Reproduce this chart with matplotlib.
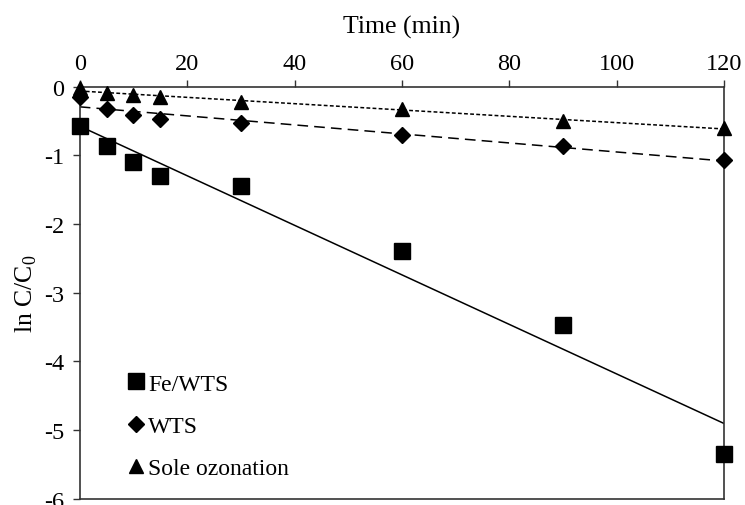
import matplotlib
matplotlib.use('Agg')
import matplotlib.pyplot as plt
import numpy as np

plt.rcParams['font.family'] = ['Liberation Serif']
plt.rcParams['mathtext.fontset'] = 'custom'
plt.rcParams['mathtext.rm'] = 'Liberation Serif'
plt.rcParams['axes.unicode_minus'] = False

# Reaction time (min) and ln C/C0 values
time = np.array([0, 5, 10, 15, 30, 60, 90, 120])
fe_wts = np.array([-0.58, -0.87, -1.10, -1.30, -1.44, -2.40, -3.47, -5.35])
wts = np.array([-0.15, -0.33, -0.41, -0.47, -0.53, -0.71, -0.86, -1.07])
sole_ozonation = np.array([-0.02, -0.10, -0.12, -0.15, -0.22, -0.33, -0.50, -0.60])

series = [
    ('Fe/WTS', fe_wts, 's', 11, '-'),
    ('WTS', wts, 'D', 8, (0, (7, 4))),
    ('Sole ozonation', sole_ozonation, '^', 10, (0, (2.5, 1.5))),
]

fig = plt.figure(figsize=(7.45, 5.06), dpi=100)
ax = fig.add_axes([0.107, 0.012, 0.865, 0.815])

fit_x = np.array([0, 120])
for label, y, marker, ms, ls in series:
    ax.plot(time, y, linestyle='none', marker=marker, markersize=ms,
            color='black', label=label, clip_on=False, zorder=3)
    slope, intercept = np.polyfit(time, y, 1)
    ax.plot(fit_x, slope * fit_x + intercept, color='black',
            linestyle=ls, linewidth=1.1, zorder=2)

ax.set_xlim(0, 120)
ax.set_ylim(-6, 0)
ax.set_xticks(np.arange(0, 121, 20))
ax.set_yticks(np.arange(-6, 0.1, 1))
ax.xaxis.tick_top()
ax.xaxis.set_label_position('top')
ax.set_xlabel('Time (min)', fontsize=18.5, labelpad=15)
ax.set_ylabel('ln C/C$_0$', fontsize=18.5, labelpad=4)
ax.tick_params(axis='both', labelsize=17.5, direction='out', length=5,
               width=1.0, color='#333333')
ax.tick_params(axis='x', pad=4)
ax.tick_params(axis='y', pad=6)
for sp in ax.spines.values():
    sp.set_linewidth(1.2)
    sp.set_color('#333333')

ax.legend(loc='lower left', bbox_to_anchor=(0.055, 0.025), frameon=False,
          fontsize=17, handletextpad=0.0, labelspacing=0.88,
          handlelength=1.0, borderaxespad=0)

fig.savefig('out.png', dpi=100, facecolor='white')
